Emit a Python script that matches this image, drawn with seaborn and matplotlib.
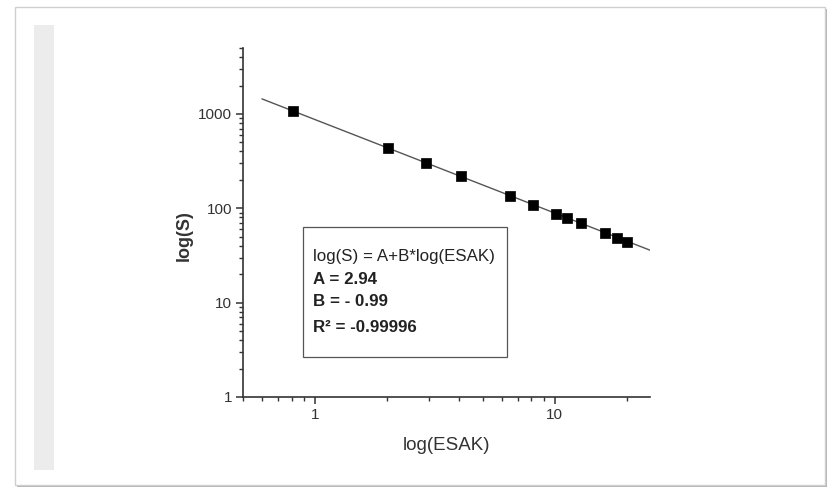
import numpy as np
import pandas as pd
import matplotlib
matplotlib.use("Agg")
import matplotlib.pyplot as plt
import matplotlib.ticker as mticker
from matplotlib.patches import Rectangle
import seaborn as sns

# ---- data ----
esak = [0.81, 2.02, 2.9, 4.05, 6.5, 8.1, 10.1, 11.3, 12.9, 16.2, 18.2, 20.1]
s_vals = [1065, 435, 300, 218, 134, 109, 88, 79, 70, 55, 49, 44]
fit_A = 2.94
fit_B = -0.99
fit_range = [0.6, 25]
x_ticks = [1, 10]
y_ticks = [1, 10, 100, 1000]
x_label = "log(ESAK)"
y_label = "log(S)"
box_lines = ["log(S) = A+B*log(ESAK)", "A = 2.94", "B = - 0.99", "R² = -0.99996"]

sns.set_theme(style="ticks")
plt.rcParams['font.family'] = ['Liberation Sans', 'DejaVu Sans']

fig = plt.figure(figsize=(8.29, 4.9), dpi=100)
W, H = 829, 490

def px(x0, y0, x1, y1):
    return (x0 / W, 1 - y1 / H, (x1 - x0) / W, (y1 - y0) / H)

# card frame with shadow
for off, col in [(3, "#c8c8c8"), (2, "#b4b4b4"), (1, "#a0a0a0")]:
    l, b, w, h = px(15 + off, 7 + off, 826 + off * 0.3, 486 + off * 0.3)
    fig.patches.append(Rectangle((l, b), w, h, transform=fig.transFigure,
                                 facecolor=col, edgecolor="none", zorder=0))
l, b, w, h = px(15, 7, 825, 485)
fig.patches.append(Rectangle((l, b), w, h, transform=fig.transFigure,
                             facecolor="white", edgecolor="#cfcfcf", lw=1.0, zorder=1))
l, b, w, h = px(34, 25, 54, 470)
fig.patches.append(Rectangle((l, b), w, h, transform=fig.transFigure,
                             facecolor="#ececec", edgecolor="none", zorder=2))

ax = fig.add_axes([243 / W, 1 - 397 / H, (650 - 243) / W, (397 - 48) / H])
ax.set_facecolor("none")
ax.set_zorder(5)

df = pd.DataFrame({"ESAK": esak, "S": s_vals})
fx = np.array(fit_range, dtype=float)
fit_df = pd.DataFrame({"ESAK": fx, "S": 10 ** (fit_A + fit_B * np.log10(fx))})

sns.lineplot(data=fit_df, x="ESAK", y="S", ax=ax, color="#555555", lw=1.0, zorder=3)
sns.scatterplot(data=df, x="ESAK", y="S", ax=ax, marker="s", s=52, color="black",
                edgecolor="black", linewidth=0.5, zorder=4)

ax.set_xscale("log")
ax.set_yscale("log")
ax.set_xlim(0.5, 25)
ax.set_ylim(1, 5000)

ax.xaxis.set_major_locator(mticker.FixedLocator(x_ticks))
ax.yaxis.set_major_locator(mticker.FixedLocator(y_ticks))
ax.xaxis.set_major_formatter(mticker.FixedFormatter([str(t) for t in x_ticks]))
ax.yaxis.set_major_formatter(mticker.FixedFormatter([str(t) for t in y_ticks]))
ax.xaxis.set_minor_locator(mticker.LogLocator(base=10, subs=np.arange(2, 10)))
ax.yaxis.set_minor_locator(mticker.LogLocator(base=10, subs=np.arange(2, 10)))
ax.xaxis.set_minor_formatter(mticker.NullFormatter())
ax.yaxis.set_minor_formatter(mticker.NullFormatter())

for sp in ["top", "right"]:
    ax.spines[sp].set_visible(False)
for sp in ["left", "bottom"]:
    ax.spines[sp].set_color("#333333")
    ax.spines[sp].set_linewidth(1.2)

ax.tick_params(axis="both", which="major", direction="out", length=5, width=1.1,
               color="#333333", labelsize=11, labelcolor="#333333", pad=3)
ax.tick_params(axis="both", which="minor", direction="out", length=3, width=1.0,
               color="#333333")

ax.set_xlabel(x_label, fontsize=13.5, color="#333333")
ax.xaxis.set_label_coords((447 - 243) / 407, (397 - 445) / 349)
ax.xaxis.label.set_va("center")
ax.set_ylabel(y_label, fontsize=13, color="#333333", fontweight="bold")
ax.yaxis.set_label_coords((184 - 243) / 407, (397 - 236) / 349)
ax.yaxis.label.set_va("center")

# text box
bx0, by0 = (303 - 243) / 407, (397 - 357) / 349
bx1, by1 = (507 - 243) / 407, (397 - 227) / 349
ax.add_patch(Rectangle((bx0, by0), bx1 - bx0, by1 - by0, transform=ax.transAxes,
                       facecolor="white", edgecolor="#555555", lw=0.9, zorder=6))
ys = [257, 280, 302, 327]
weights = ["normal", "bold", "bold", "bold"]
for txt, yy, wt in zip(box_lines, ys, weights):
    ax.text((313 - 243) / 407, (397 - yy) / 349, txt, transform=ax.transAxes,
            ha="left", va="center", fontsize=12.2, fontweight=wt, color="#222222",
            zorder=7)

fig.savefig("out.png", dpi=100)
